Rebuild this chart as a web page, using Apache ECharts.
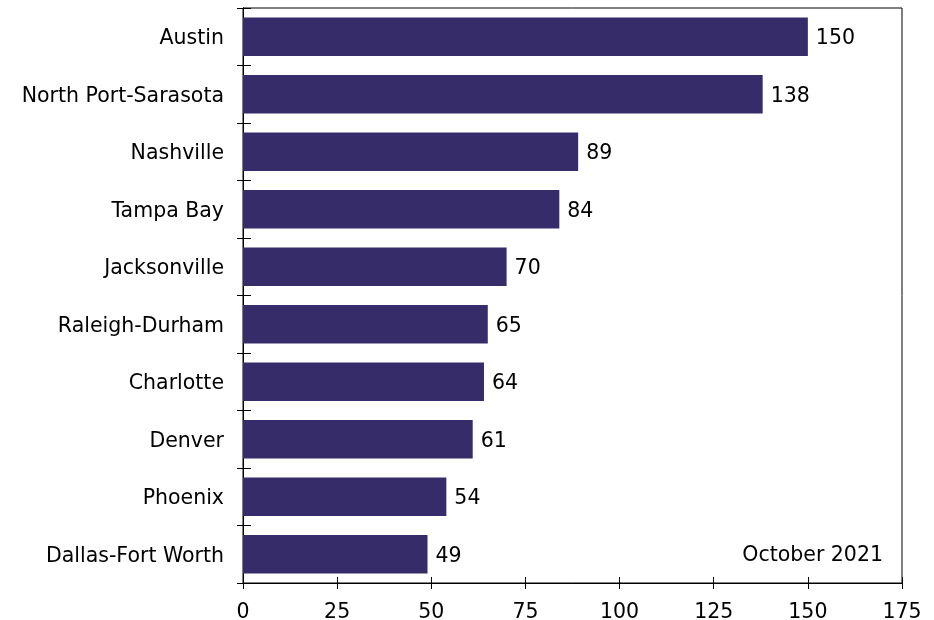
<!DOCTYPE html>
<html>
<head>
<meta charset="utf-8">
<script src="https://cdn.jsdelivr.net/npm/echarts@6/dist/echarts.min.js"></script>
<style>
  html, body { margin: 0; padding: 0; background: #fff; }
  #chart { width: 934px; height: 620px; }
</style>
</head>
<body>
<div id="chart"></div>
<script>
// Metro areas, listed top to bottom
const cities = [
  'Austin', 'North Port-Sarasota', 'Nashville', 'Tampa Bay', 'Jacksonville',
  'Raleigh-Durham', 'Charlotte', 'Denver', 'Phoenix', 'Dallas-Fort Worth'
];
const values = [150, 138, 89, 84, 70, 65, 64, 61, 54, 49];
const xTicks = [0, 25, 50, 75, 100, 125, 150, 175];
const note = 'October 2021';

const FONT = 'DejaVu Sans, Verdana, sans-serif';
const FS = 20.5;
const BAR = '#372c6a';

const chart = echarts.init(document.getElementById('chart'));

// Each axis is drawn twice (outer ticks + inner ticks) so the ticks cross the axis line
function valueAxis(inside, showLabels) {
  return {
    type: 'value',
    min: xTicks[0],
    max: xTicks[xTicks.length - 1],
    interval: xTicks[1] - xTicks[0],
    position: 'bottom',
    axisLine: { show: true, lineStyle: { color: '#000', width: 1 } },
    axisTick: { show: true, inside: inside, length: 6, lineStyle: { color: '#000' } },
    axisLabel: { show: showLabels, color: '#000', fontFamily: FONT, fontSize: FS, margin: 19 },
    splitLine: { show: false }
  };
}
function categoryAxis(inside, showLabels) {
  return {
    type: 'category',
    data: cities,
    inverse: true,
    position: 'left',
    boundaryGap: true,
    axisLine: { show: true, lineStyle: { color: '#000', width: 1 } },
    axisTick: { show: true, inside: inside, length: inside ? 8 : 6, alignWithLabel: false, lineStyle: { color: '#000' } },
    axisLabel: {
      show: showLabels, color: '#000', fontFamily: FONT, fontSize: FS, margin: 19,
      formatter: '{n|{value}}',
      rich: { n: { fontFamily: FONT, fontSize: FS, color: '#000', padding: [4, 0, 0, 0] } }
    }
  };
}

chart.setOption({
  animation: false,
  backgroundColor: '#fff',
  grid: {
    left: 243, right: 32, top: 8, bottom: 37,
    outerBoundsMode: 'none',
    containLabel: false,
    show: true, borderColor: '#000', borderWidth: 1, backgroundColor: 'transparent'
  },
  xAxis: [valueAxis(false, true), valueAxis(true, false)],
  yAxis: [categoryAxis(false, true), categoryAxis(true, false)],
  series: [{
    type: 'bar',
    data: values,
    xAxisIndex: 0,
    yAxisIndex: 0,
    barCategoryGap: '33%',
    itemStyle: { color: BAR },
    label: {
      show: true,
      position: 'right',
      distance: 8,
      offset: [0, 2],
      color: '#000',
      fontFamily: FONT,
      fontSize: FS
    }
  }],
  graphic: [{
    type: 'text',
    right: 51,
    top: 545,
    style: { text: note, fill: '#000', font: FS + 'px ' + FONT }
  }]
});
</script>
</body>
</html>
